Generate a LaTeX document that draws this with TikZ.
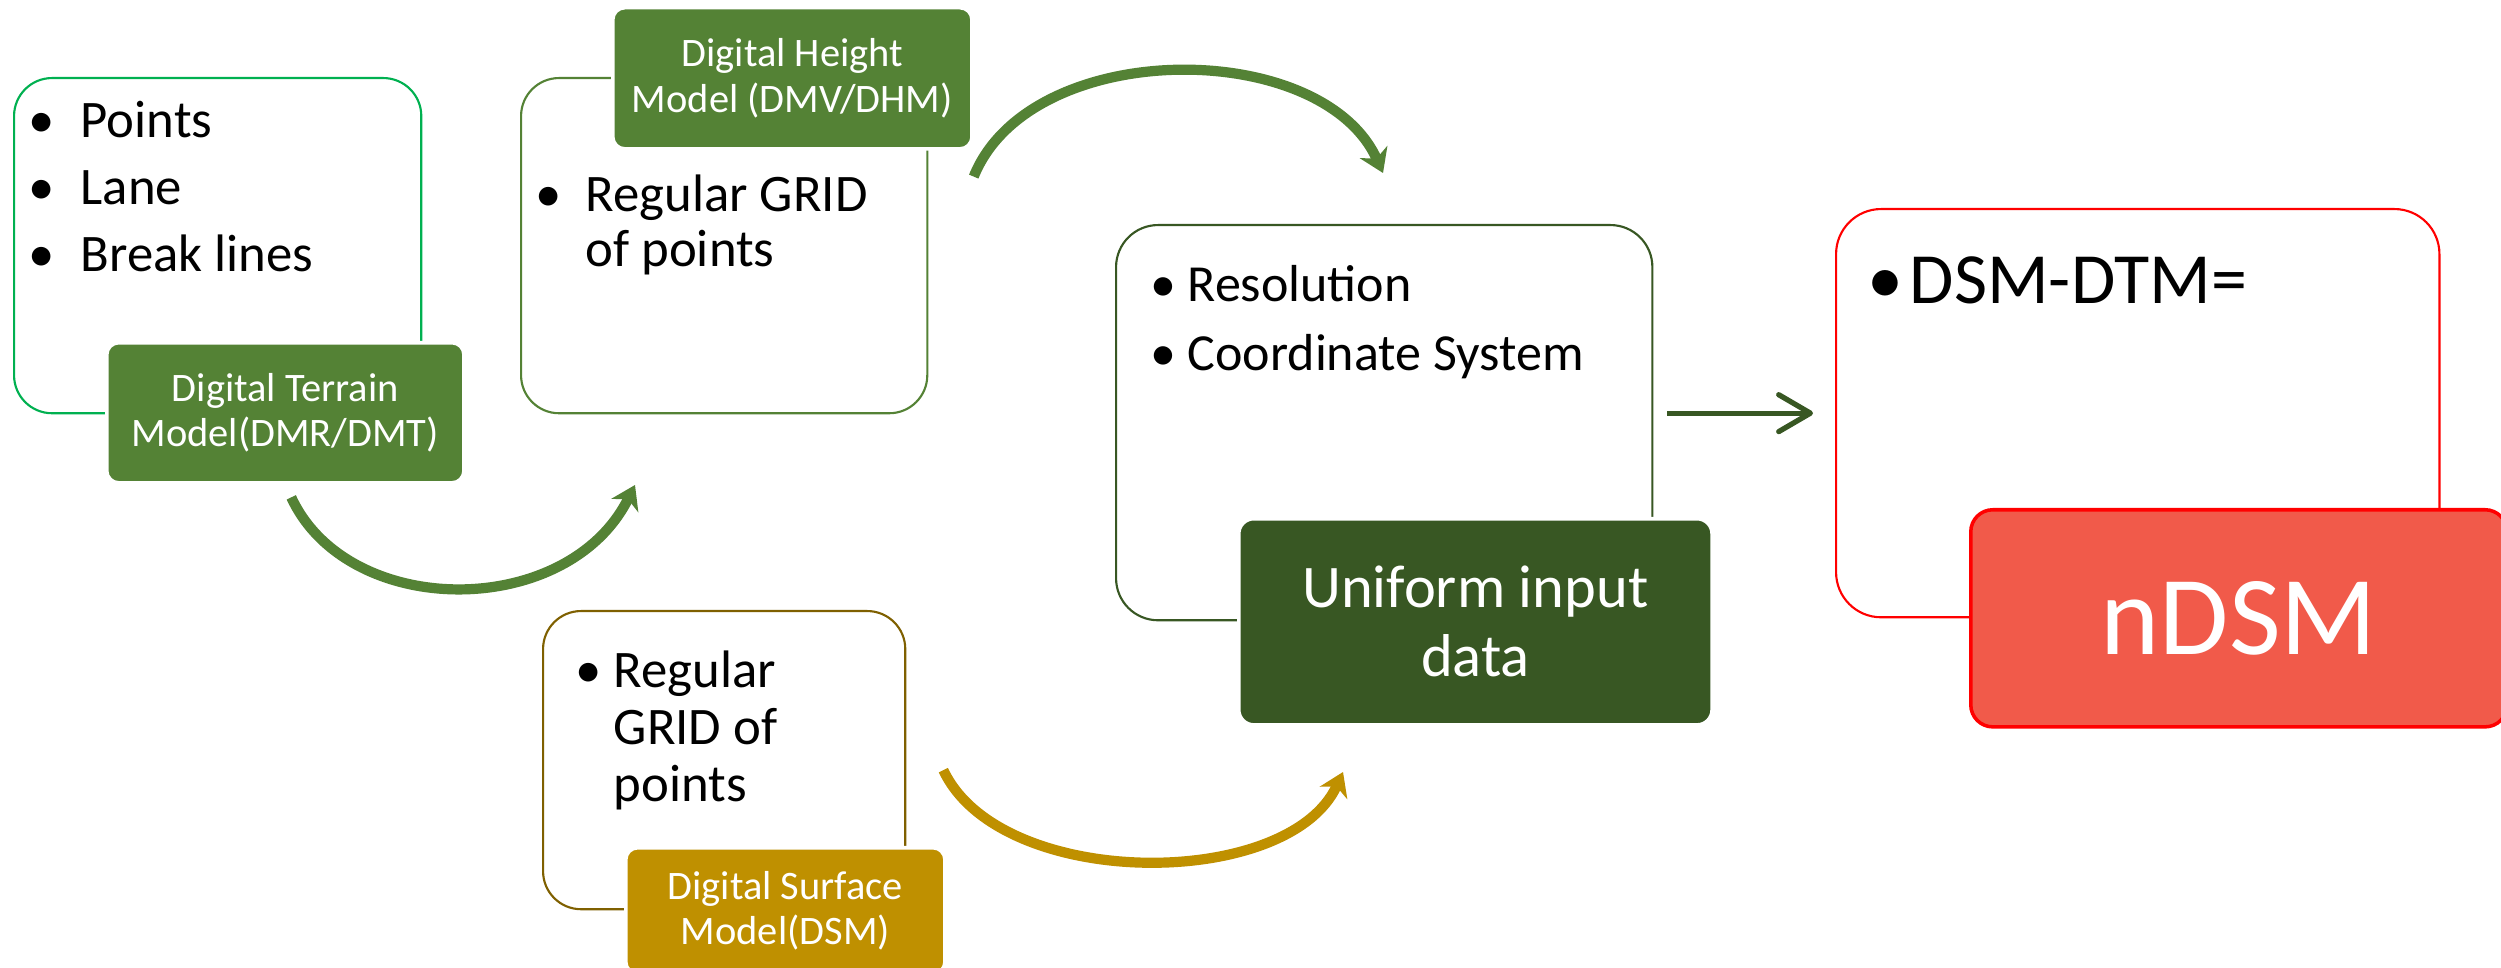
\documentclass[tikz,border=0pt]{standalone}
\usepackage{fontspec}
\setmainfont{Carlito}
\usetikzlibrary{positioning, arrows.meta}
\definecolor{brightgreen}{HTML}{00B050}
\definecolor{olivegreen}{HTML}{548235}
\definecolor{darkgreen}{HTML}{385723}
\definecolor{darkgold}{HTML}{7F6000}
\definecolor{gold}{HTML}{BF9000}
\definecolor{salmon}{HTML}{F15A4A}
\tikzstyle{outline} = [rectangle, rounded corners=0.38cm, line width=0.6pt, anchor=north west, inner sep=0pt]
\tikzstyle{tagbox} = [rectangle, rounded corners=0.12cm, draw=white, line width=1pt, text=white, align=center, anchor=north west, inner sep=0pt, font=\fontsize{11.5}{13}\selectfont]
\tikzstyle{listtext} = [align=left, inner sep=0pt, font=\fontsize{15}{19}\selectfont]
\tikzstyle{bendarrow} = [line width=2.9pt, -{Stealth[length=6.5pt, width=8.5pt, inset=2pt]}]
\tikzstyle{arrow} = [line width=1.5pt, -{Straight Barb[length=9pt, width=10.5pt, round]}]
\newcommand{\bulitem}[2]{\makebox[#1][l]{\textbullet}#2}
\newcommand{\contitem}[2]{\makebox[#1][l]{}#2}

\begin{document}
\begin{tikzpicture}[x=0.01cm, y=-0.01cm]

    \fill[white] (0,0) rectangle (2501,968);
    \useasboundingbox (0,0) rectangle (2501,968);

    % outlines
    \node (dtmbox) [outline, draw=brightgreen, minimum width=4.07cm, minimum height=3.35cm] at (13,77) {};
    \node (dhmbox) [outline, draw=olivegreen, minimum width=4.06cm, minimum height=3.35cm] at (520,77) {};
    \node (dsmbox) [outline, draw=darkgold, minimum width=3.62cm, minimum height=2.98cm] at (542,610) {};
    \node (unibox) [outline, draw=darkgreen, rounded corners=0.42cm, minimum width=5.36cm, minimum height=3.95cm] at (1115,224) {};
    \node (diffbox) [outline, draw=red, rounded corners=0.45cm, minimum width=6.03cm, minimum height=4.08cm] at (1835,208) {};

    % lists
    \node (dtmtext) [listtext, anchor=north west, below right=0.24cm and 0.15cm of dtmbox.north west] {\bulitem{14.8pt}{Points}\\\bulitem{14.8pt}{Lane}\\\bulitem{14.8pt}{Break lines}};
    \node (dhmtext) [listtext, font=\fontsize{15}{15.7}\selectfont, below right=0.97cm and 0.15cm of dhmbox.north west] {\bulitem{14.2pt}{Regular GRID}\\\contitem{14.2pt}{of points}};
    \node (dsmtext) [listtext, font=\fontsize{15}{16.2}\selectfont, below right=0.40cm and 0.33cm of dsmbox.north west] {\bulitem{10.8pt}{Regular}\\\contitem{10.8pt}{GRID of}\\\contitem{10.8pt}{points}};
    \node (unitext) [listtext, font=\fontsize{14.8}{19.4}\selectfont, below right=0.41cm and 0.35cm of unibox.north west] {\bulitem{10.5pt}{Resolution}\\\bulitem{10.5pt}{Coordinate System}};
    \node (difftext) [listtext, font=\fontsize{20.5}{24}\selectfont, below right=0.48cm and 0.32cm of diffbox.north west] {\bulitem{12pt}{DSM-DTM=}};

    % tags
    \node (dtmtag) [tagbox, fill=olivegreen, minimum width=3.57cm, minimum height=1.40cm] at (105,341) {Digital Terrain\\Model(DMR/DMT)};
    \node (dhmtag) [tagbox, fill=olivegreen, minimum width=3.59cm, minimum height=1.41cm] at (611,6) {Digital Height\\Model (DMV/DHM)};
    \node (dsmtag) [tagbox, fill=gold, minimum width=3.19cm, minimum height=1.26cm] at (624,846) {Digital Surface\\Model(DSM)};
    \node (unitag) [tagbox, fill=darkgreen, rounded corners=0.15cm, minimum width=4.73cm, minimum height=2.06cm, font=\fontsize{17.2}{19.6}\selectfont] at (1237,517) {Uniform input\\data};
    \node (ndsmtag) [tagbox, fill=salmon, draw=red, rounded corners=0.22cm, minimum width=5.36cm, minimum height=2.17cm, font=\fontsize{32}{36}\selectfont] at (1969,508) {nDSM};

    % connectors
    \coordinate (dhmin) at (635,485);
    \coordinate (dhmout) at ([yshift=-0.26cm]dhmtag.south east);
    \coordinate (uniin) at (1383,173);
    \coordinate (dsmout) at ([shift={(0.37cm,-0.1cm)}]dsmbox.east);
    \coordinate (unilow) at (1343,772);

    \draw [bendarrow, olivegreen, shorten <=4pt] (dtmtag.south) .. controls (348,620) and (568,620) .. (dhmin);
    \draw [bendarrow, olivegreen] (dhmout) .. controls (1030,37) and (1322,37) .. (uniin);
    \draw [bendarrow, gold] (dsmout) .. controls (1000,891) and (1289,891) .. (unilow);
    \draw [arrow, darkgreen, shorten <=0.14cm, shorten >=0.22cm] (unibox.east |- diffbox.west) -- (diffbox.west);

\end{tikzpicture}
\end{document}
